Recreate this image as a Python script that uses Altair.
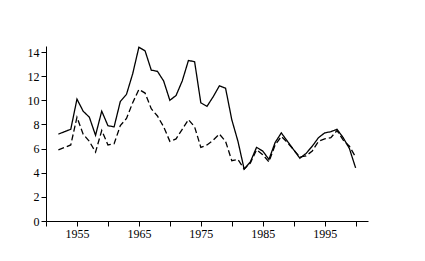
import altair as alt
import pandas as pd

years = list(range(1952, 2001))
solid = [7.2, 7.4, 7.6, 10.1, 9.1, 8.6, 7.1, 9.1, 7.9, 7.8,
         9.9, 10.5, 12.2, 14.4, 14.1, 12.5, 12.4, 11.6, 10.0, 10.4,
         11.6, 13.3, 13.2, 9.8, 9.5, 10.3, 11.2, 11.0, 8.4, 6.6,
         4.3, 4.9, 6.1, 5.8, 5.1, 6.5, 7.3, 6.6, 5.9, 5.2,
         5.6, 6.2, 6.9, 7.3, 7.4, 7.6, 6.9, 6.0, 4.4]
dashed = [5.9, 6.1, 6.3, 8.6, 7.2, 6.6, 5.7, 7.5, 6.3, 6.4,
          7.9, 8.5, 9.8, 10.9, 10.6, 9.3, 8.7, 7.8, 6.6, 6.8,
          7.6, 8.4, 7.8, 6.1, 6.3, 6.7, 7.2, 6.6, 5.0, 5.1,
          4.3, 4.8, 5.9, 5.5, 4.9, 6.3, 7.0, 6.5, 5.9, 5.3,
          5.4, 5.8, 6.6, 6.8, 6.9, 7.5, 6.7, 6.2, 5.3]
x_ticks = list(range(1950, 2001, 5))
y_ticks = [0, 2, 4, 6, 8, 10, 12, 14]

df = pd.DataFrame({
    "year": years * 2,
    "value": solid + dashed,
    "series": ["A"] * len(years) + ["B"] * len(years),
})

chart = alt.Chart(df).mark_line(color="black", strokeWidth=1.3).encode(
    x=alt.X("year:Q", scale=alt.Scale(domain=[1950, 2002], nice=False, zero=False),
            axis=alt.Axis(values=x_ticks, format="d", title=None, grid=False,
                          labelExpr="datum.value % 10 == 5 ? datum.label : ''",
                          tickSize=5, labelPadding=2)),
    y=alt.Y("value:Q", scale=alt.Scale(domain=[0, 14.5], nice=False),
            axis=alt.Axis(values=y_ticks, title=None, grid=False, tickSize=5,
                          labelPadding=2)),
    strokeDash=alt.StrokeDash("series:N", legend=None,
                              scale=alt.Scale(domain=["A", "B"], range=[[1, 0], [6, 3]])),
    detail="series:N",
).properties(
    width=322, height=175,
    autosize=alt.AutoSizeParams(type="none"),
    padding={"left": 46, "top": 46, "right": 57, "bottom": 40},
).configure_view(stroke=None).configure_axis(
    domainColor="black", tickColor="black", labelColor="black",
    labelFont="Liberation Serif", labelFontSize=12, domainWidth=1, tickWidth=1,
)

chart.save("out.html", embed_options={"renderer": "svg", "actions": False})
